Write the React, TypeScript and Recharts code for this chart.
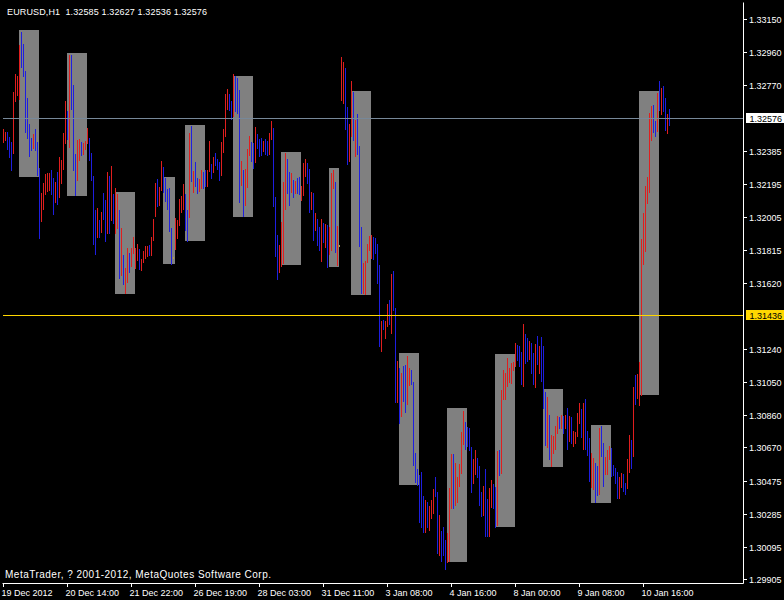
import React from 'react';
import { ComposedChart, Bar, XAxis, YAxis, ReferenceArea, ReferenceLine } from 'recharts';

// ---------- data (EURUSD H1) ----------
const barHighs = [
1.32513,1.32495,1.32495,1.32466,1.32437,1.32727,1.32832,1.32820,1.32999,1.33074,
1.33005,1.32849,1.32693,1.32542,1.32461,1.32484,1.32513,1.32437,1.32288,1.32143,
1.32201,1.32253,1.32259,1.32259,1.32276,1.32230,1.32206,1.32264,1.32351,1.32334,
1.32490,1.32675,1.32617,1.32942,1.32942,1.32768,1.32369,1.32449,1.32455,1.32437,
1.32432,1.32443,1.32519,1.32461,1.32375,1.32241,1.32044,1.32056,1.31986,1.32032,
1.32143,1.32102,1.32264,1.32241,1.32299,1.32137,1.32172,1.32137,1.32044,1.31940,
1.31784,1.31709,1.31824,1.31796,1.31824,1.31887,1.31824,1.31847,1.31818,1.31761,
1.31807,1.31835,1.31835,1.31841,1.31887,1.31992,1.32201,1.32224,1.32177,1.32328,
1.32293,1.32230,1.32166,1.32172,1.31940,1.31770,1.31998,1.31986,1.32108,1.32125,
1.32195,1.32137,1.32044,1.32490,1.32530,1.32270,1.32322,1.32230,1.32224,1.32276,
1.32264,1.32276,1.32276,1.32443,1.32311,1.32351,1.32375,1.32340,1.32322,1.32437,
1.32513,1.32716,1.32745,1.32716,1.32675,1.32832,1.32820,1.32809,1.32739,1.32328,
1.32276,1.32282,1.32397,1.32472,1.32437,1.32432,1.32524,1.32484,1.32455,1.32461,
1.32443,1.32455,1.32443,1.32490,1.32559,1.32519,1.32119,1.31899,1.31841,1.31974,
1.32206,1.32375,1.32340,1.32264,1.32259,1.32218,1.32212,1.32230,1.32235,1.32183,
1.32317,1.32340,1.32317,1.32282,1.32148,1.32143,1.32027,1.31992,1.31945,1.31992,
1.31969,1.31963,1.31957,1.31945,1.32259,1.32276,1.32206,1.31951,1.31844,1.32930,
1.32901,1.32867,1.32640,1.32542,1.32791,1.32727,1.32565,1.32600,1.32414,1.31945,
1.31738,1.31749,1.31847,1.31893,1.31899,1.31887,1.31882,1.31847,1.31726,1.31401,
1.31407,1.31401,1.31500,1.31523,1.31674,1.31691,1.31477,1.31170,1.31130,1.31101,
1.31141,1.31147,1.31199,1.31130,1.31118,1.31048,1.30638,1.30545,1.30510,1.30527,
1.30388,1.30365,1.30353,1.30330,1.30365,1.30429,1.30498,1.30411,1.30278,1.30185,
1.30208,1.30133,1.30174,1.30435,1.30632,1.30632,1.30580,1.30498,1.30574,1.30758,
1.30880,1.30816,1.30787,1.30782,1.30671,1.30603,1.30655,1.30609,1.30562,1.30411,
1.30446,1.30545,1.30371,1.30435,1.30481,1.30458,1.30440,1.30649,1.30655,1.31002,
1.31118,1.31101,1.31188,1.31130,1.31159,1.31164,1.31274,1.31262,1.31256,1.31222,
1.31384,1.31326,1.31303,1.31285,1.31274,1.31217,1.31268,1.31314,1.31256,1.31308,
1.31256,1.30990,1.30961,1.30857,1.30741,1.30735,1.30793,1.30851,1.30845,1.30857,
1.30851,1.30857,1.30898,1.30851,1.30845,1.30764,1.30758,1.30869,1.30927,1.30892,
1.30927,1.30950,1.30764,1.30724,1.30638,1.30609,1.30580,1.30562,1.30782,1.30793,
1.30695,1.30614,1.30655,1.30677,1.30666,1.30568,1.30551,1.30527,1.30498,1.30522,
1.30516,1.30464,1.30603,1.30741,1.30712,1.31019,1.31089,1.31095,1.31164,1.31876,
1.32027,1.32183,1.32235,1.32606,1.32646,1.32652,1.32559,1.32722,1.32791,1.32751,
1.32762,1.32693,1.32600,1.32627,
];

const barLows = [
1.32437,1.32449,1.32397,1.32351,1.32276,1.32375,1.32675,1.32710,1.32687,1.32872,
1.32820,1.32495,1.32461,1.32357,1.32392,1.32403,1.32392,1.32247,1.31882,1.31980,
1.32050,1.32137,1.32154,1.32160,1.32137,1.32021,1.32090,1.32079,1.32119,1.32201,
1.32282,1.32432,1.32455,1.32408,1.32629,1.32276,1.32131,1.32218,1.32334,1.32363,
1.32369,1.32397,1.32432,1.32334,1.32218,1.31847,1.31790,1.31887,1.31887,1.31916,
1.31992,1.31864,1.31911,1.31911,1.31986,1.31969,1.31911,1.31940,1.31651,1.31668,
1.31616,1.31564,1.31627,1.31685,1.31720,1.31796,1.31709,1.31755,1.31703,1.31697,
1.31743,1.31767,1.31778,1.31784,1.31784,1.31870,1.32009,1.32067,1.32073,1.32160,
1.32148,1.32096,1.32050,1.31922,1.31732,1.31764,1.31818,1.31882,1.31957,1.32032,
1.32050,1.31928,1.31864,1.32003,1.32212,1.32148,1.32183,1.32143,1.32154,1.32172,
1.32172,1.32183,1.32183,1.32270,1.32230,1.32264,1.32305,1.32282,1.32218,1.32247,
1.32380,1.32472,1.32629,1.32623,1.32571,1.32588,1.32617,1.32606,1.32090,1.32189,
1.32009,1.32073,1.32177,1.32363,1.32328,1.32288,1.32322,1.32403,1.32357,1.32363,
1.32386,1.32369,1.32363,1.32369,1.32455,1.32067,1.31778,1.31645,1.31685,1.31720,
1.31738,1.32050,1.32143,1.32073,1.32148,1.32119,1.32143,1.32143,1.32137,1.32102,
1.32131,1.32241,1.32201,1.32032,1.32050,1.31870,1.31928,1.31841,1.31813,1.31749,
1.31858,1.31829,1.31714,1.31790,1.31813,1.32172,1.31801,1.31726,1.31838,1.32681,
1.32664,1.32513,1.32311,1.32328,1.32472,1.32449,1.32357,1.32369,1.31835,1.31564,
1.31564,1.31558,1.31743,1.31813,1.31767,1.31761,1.31796,1.31622,1.31256,1.31228,
1.31355,1.31303,1.31372,1.31384,1.31332,1.31465,1.30932,1.30932,1.30811,1.30851,
1.30938,1.30874,1.30921,1.31031,1.31037,1.30568,1.30469,1.30452,1.30237,1.30208,
1.30179,1.30179,1.30208,1.30191,1.30261,1.30290,1.30388,1.30059,1.30047,1.30012,
1.30047,1.29966,1.30006,1.30012,1.30319,1.30319,1.30336,1.30353,1.30446,1.30522,
1.30689,1.30660,1.30677,1.30655,1.30411,1.30464,1.30516,1.30498,1.30336,1.30272,
1.30278,1.30156,1.30156,1.30156,1.30324,1.30319,1.30208,1.30220,1.30510,1.30522,
1.30950,1.30950,1.31025,1.31048,1.31043,1.31118,1.31141,1.31176,1.31141,1.31037,
1.31025,1.31159,1.31170,1.31182,1.31101,1.31037,1.31019,1.31153,1.31101,1.31054,
1.30898,1.30683,1.30671,1.30603,1.30562,1.30638,1.30660,1.30753,1.30782,1.30782,
1.30753,1.30782,1.30660,1.30706,1.30695,1.30677,1.30695,1.30735,1.30811,1.30729,
1.30660,1.30660,1.30626,1.30475,1.30440,1.30429,1.30353,1.30394,1.30400,1.30620,
1.30446,1.30516,1.30516,1.30603,1.30504,1.30510,1.30464,1.30377,1.30377,1.30440,
1.30417,1.30400,1.30435,1.30527,1.30551,1.30620,1.30921,1.30956,1.30915,1.30973,
1.31732,1.31807,1.32085,1.32148,1.32449,1.32495,1.32472,1.32501,1.32623,1.32600,
1.32617,1.32507,1.32490,1.32536,
];

// R = red bar, B = blue bar, D = doji bar
const barDirections = (
  'RRBBBRRRRB' + 'BBBBBRBBBR' + 'RRRRBBRBRR' + 'RRBRBBBRRB' + 'RRRBBBBRBR' +
  'BBRBRBRRBR' + 'BRRBRRRRBR' + 'RRRBRRRBRR' + 'BBBBBDRRRR' + 'RBBRBRBBRR' +
  'BBRRBRBBBR' + 'RRRBBRBBBR' + 'BRRRBBRBBB' + 'RBBRRBBBRR' + 'RRBBRBRBBR' +
  'RRBBRBRBBR' + 'BRBRRRBRDR' + 'RBBRRBRBBB' + 'RRRRRBBBBR' + 'BRRBRBBRBR' +
  'BBRRBBBBBB' + 'BRBRRRBBRB' + 'BBRRRBRRRR' + 'RBBBBRRBBB' + 'RBBRRBBRBR' +
  'RRRRRRRBBB' + 'RBBRBBRBRB' + 'BBRBRRRRBR' + 'BRBRBRRRRB' + 'RBBBRRBBRB' +
  'BRRRBBBBRR' + 'BBRRBRBRRR' + 'RRRRRBBRBR' + 'BBRB'
).split('');

const SLOT_COUNT = 370; // hourly slots on the time axis (incl. empty chart shift)

const boxStartBars = [8, 32, 56, 80, 91, 115, 139, 163, 174, 198, 222, 246, 270, 294, 318];
const boxBarCounts = [10, 10, 10, 6, 10, 10, 10, 5, 10, 10, 10, 10, 10, 10, 10];
const boxHighs = [1.33086, 1.32953, 1.32148, 1.32235, 1.32536, 1.32820, 1.32380, 1.32287, 1.32733, 1.31216, 1.30898, 1.31210, 1.31008, 1.30799, 1.32733];
const boxLows = [1.32241, 1.32131, 1.31564, 1.31737, 1.31870, 1.32009, 1.31731, 1.31720, 1.31558, 1.30458, 1.30012, 1.30215, 1.30562, 1.30353, 1.30979];

const timeTickBars = [0, 32, 64, 96, 128, 160, 192, 224, 256, 288, 320];
const timeTickLabels = ['19 Dec 2012', '20 Dec 14:00', '21 Dec 22:00', '26 Dec 19:00', '28 Dec 03:00', '31 Dec 11:00', '3 Jan 08:00', '4 Jan 16:00', '8 Jan 00:00', '9 Jan 08:00', '10 Jan 16:00'];

const priceTicks = [1.33150, 1.32960, 1.32770, 1.32385, 1.32195, 1.32005, 1.31815, 1.31620, 1.31240, 1.31050, 1.30860, 1.30670, 1.30475, 1.30285, 1.30095, 1.29905];
const priceDomain: [number, number] = [1.298844, 1.332484];

const bidPrice = 1.32576;
const levelPrice = 1.31436;
const titleText = 'EURUSD,H1  1.32585 1.32627 1.32536 1.32576';
const copyrightText = 'MetaTrader, ? 2001-2012, MetaQuotes Software Corp.';

// ---------- styles ----------
const FONT = '"Liberation Sans", Arial, sans-serif';
const FONT_SIZE = 9;
const BAR_COLORS: Record<string, string> = { R: '#e01e1e', B: '#1e1ee0', D: '#b4a040' };
const BOX_COLOR = '#808080';
const BID_COLOR = '#778899';
const LEVEL_COLOR = '#ffd700';

const rows = Array.from({ length: SLOT_COUNT }, (_, k) =>
  k < barHighs.length
    ? { k, range: [barLows[k], barHighs[k]], dir: barDirections[k] }
    : { k, range: null, dir: '' }
);

const HourBar = (props: any) => {
  const { x, y, height, payload } = props;
  if (!payload || !payload.range || y == null || isNaN(y)) return <g />;
  const top = Math.min(y, y + height);
  const bottom = Math.max(y, y + height);
  const col = Math.floor(x + 0.51);
  const r0 = Math.floor(top);
  const r1 = Math.floor(bottom);
  return <rect x={col} y={r0} width={1} height={r1 - r0 + 1} fill={BAR_COLORS[payload.dir] || '#888'} />;
};

const BoxShape = (props: any) => {
  const { x, y, width, height } = props;
  const x0 = Math.floor(x + 0.51);
  const x1 = Math.floor(x + width + 0.51);
  const y0 = Math.floor(y);
  const y1 = Math.floor(y + height);
  return <rect x={x0} y={y0} width={x1 - x0} height={y1 - y0 + 1} fill={BOX_COLOR} />;
};

const makeLine = (color: string) => (props: any) => {
  const yy = Math.floor(props.y1) + 0.5;
  const xa = Math.min(props.x1, props.x2) + 0.5;
  const xb = Math.max(props.x1, props.x2) - 0.5;
  return <line x1={xa} x2={xb} y1={yy} y2={yy} stroke={color} strokeWidth={1} />;
};

const makeTag = (value: number, bg: string) => (props: any) => {
  const vb = props.viewBox || {};
  const right = Math.floor((vb.x || 0) + (vb.width || 0));
  const row = Math.floor(vb.y || 0);
  return (
    <g>
      <rect x={right + 3} y={row - 5} width={40} height={10} fill={bg} />
      <text x={right + 6.5} y={row + 4} fill="#000" fontSize={FONT_SIZE} fontFamily={FONT}>
        {value.toFixed(5)}
      </text>
    </g>
  );
};

const PriceTick = (props: any) => {
  const { x, y, payload } = props;
  const row = Math.floor(y);
  return (
    <g>
      <line x1={x + 0.5} x2={x + 3.5} y1={row + 0.5} y2={row + 0.5} stroke="#fff" />
      <text x={x + 5.5} y={row + 4} fill="#fff" fontSize={FONT_SIZE} fontFamily={FONT}>
        {Number(payload.value).toFixed(5)}
      </text>
    </g>
  );
};

const TimeTick = (props: any) => {
  const { x, y, payload } = props;
  const col = Math.floor(x - 0.49);
  const idx = timeTickBars.indexOf(Number(payload.value));
  return (
    <g>
      <line x1={col + 0.5} x2={col + 0.5} y1={y} y2={y + 3.5} stroke="#fff" />
      <text x={col - 1.5} y={y + 12.5} fill="#fff" fontSize={FONT_SIZE} fontFamily={FONT}>
        {idx >= 0 ? timeTickLabels[idx] : ''}
      </text>
    </g>
  );
};

export default function App() {
  return (
    <div style={{ position: 'absolute', left: 0, top: 0, width: 784, height: 600, background: '#000', overflow: 'hidden' }}>
      <ComposedChart
        width={784}
        height={600}
        data={rows}
        margin={{ top: 2.5, right: 0, bottom: 0, left: 2.5 }}
        barCategoryGap={0}
        barGap={0}
        style={{ background: '#000' }}
      >
        <XAxis
          dataKey="k"
          type="category"
          height={16.5}
          ticks={timeTickBars}
          interval={0}
          tickSize={0}
          tickMargin={0}
          tickLine={false}
          axisLine={{ stroke: '#fff' }}
          tick={TimeTick}
        />
        <XAxis xAxisId="top" dataKey="k" type="category" orientation="top" height={0} tick={false} tickLine={false} axisLine={{ stroke: '#fff' }} />
        <YAxis
          orientation="right"
          width={40.5}
          domain={priceDomain}
          allowDataOverflow
          ticks={priceTicks}
          interval={0}
          tickSize={0}
          tickMargin={0}
          tickLine={false}
          axisLine={{ stroke: '#fff' }}
          tick={PriceTick}
        />
        <YAxis yAxisId="left" orientation="left" width={0} domain={priceDomain} allowDataOverflow tick={false} tickLine={false} axisLine={{ stroke: '#fff' }} />
        {boxStartBars.map((s, i) => (
          <ReferenceArea
            key={'box' + i}
            x1={s}
            x2={s + boxBarCounts[i] - 1}
            y1={boxLows[i]}
            y2={boxHighs[i]}
            fill={BOX_COLOR}
            fillOpacity={1}
            stroke="none"
            shape={BoxShape}
          />
        ))}
        <Bar dataKey="range" isAnimationActive={false} shape={HourBar} />
        <ReferenceLine y={levelPrice} stroke={LEVEL_COLOR} shape={makeLine(LEVEL_COLOR)} label={makeTag(levelPrice, LEVEL_COLOR)} />
        <ReferenceLine y={bidPrice} stroke={BID_COLOR} shape={makeLine(BID_COLOR)} label={makeTag(bidPrice, '#ffffff')} />
        <text x={7} y={15} fill="#fff" fontSize={FONT_SIZE} fontFamily={FONT} textLength={200} lengthAdjust="spacing" style={{ whiteSpace: 'pre' }}>
          {titleText}
        </text>
        <text x={5} y={578} fill="#fff" fontSize={10} fontFamily={FONT} textLength={266} lengthAdjust="spacing">
          {copyrightText}
        </text>
      </ComposedChart>
    </div>
  );
}
